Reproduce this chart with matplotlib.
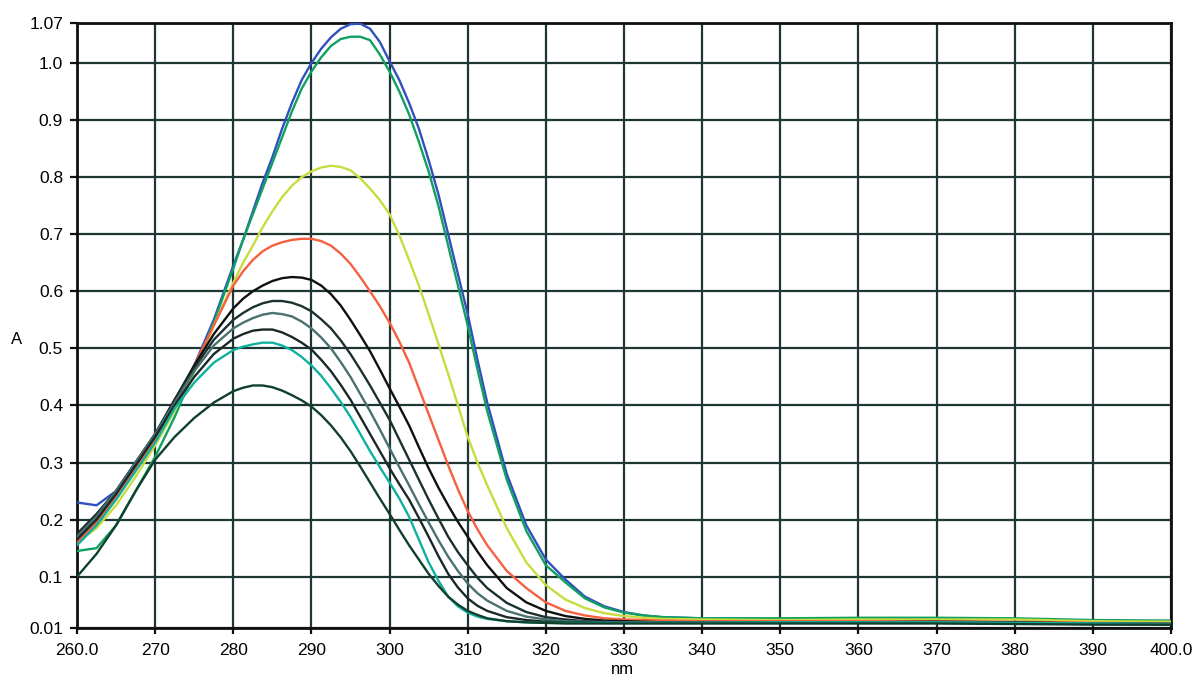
import matplotlib
matplotlib.use("Agg")
import matplotlib.pyplot as plt

plt.rcParams['font.family'] = ['Liberation Sans', 'DejaVu Sans']

# wavelength grid (nm): 2.5 nm steps, 1.25 nm around the bands, 10 nm in the flat tail
wl = [260, 262.5, 265, 267.5, 270, 272.5, 275, 277.5,
      280, 281.25, 282.5, 283.75, 285, 286.25, 287.5, 288.75, 290, 291.25,
      292.5, 293.75, 295, 296.25, 297.5, 298.75, 300, 301.25, 302.5, 303.75,
      305, 306.25, 307.5, 308.75, 310, 311.25, 312.5,
      315, 317.5, 320, 322.5, 325, 327.5, 330, 332.5, 335,
      340, 350, 360, 370, 380, 390, 400]

blue = [0.23, 0.225, 0.25, 0.30, 0.345, 0.40, 0.47, 0.55,
        0.645, 0.69, 0.74, 0.79, 0.835, 0.885, 0.93, 0.97, 1.0, 1.025,
        1.045, 1.06, 1.068, 1.069, 1.06, 1.037, 1.003, 0.97, 0.93, 0.885,
        0.83, 0.77, 0.70, 0.63, 0.56, 0.48, 0.405,
        0.28, 0.19, 0.13, 0.095, 0.065, 0.048, 0.038, 0.032, 0.029,
        0.027, 0.026, 0.026, 0.027, 0.026, 0.023, 0.021]
green = [0.145, 0.15, 0.19, 0.25, 0.31, 0.38, 0.46, 0.545,
         0.64, 0.69, 0.735, 0.78, 0.825, 0.87, 0.915, 0.955, 0.985, 1.01,
         1.03, 1.042, 1.046, 1.046, 1.04, 1.015, 0.985, 0.95, 0.91, 0.862,
         0.81, 0.75, 0.68, 0.61, 0.54, 0.463, 0.39,
         0.27, 0.18, 0.12, 0.09, 0.062, 0.046, 0.037, 0.032, 0.029,
         0.027, 0.027, 0.028, 0.028, 0.027, 0.024, 0.023]
yellow = [0.16, 0.185, 0.225, 0.275, 0.33, 0.39, 0.46, 0.54,
          0.615, 0.65, 0.68, 0.712, 0.74, 0.765, 0.785, 0.80, 0.81, 0.817,
          0.82, 0.818, 0.812, 0.798, 0.78, 0.76, 0.735, 0.698, 0.655, 0.61,
          0.56, 0.508, 0.455, 0.40, 0.345, 0.30, 0.26,
          0.185, 0.125, 0.085, 0.06, 0.045, 0.036, 0.031, 0.028, 0.026,
          0.025, 0.024, 0.025, 0.025, 0.025, 0.022, 0.021]
orange = [0.16, 0.195, 0.24, 0.29, 0.34, 0.40, 0.47, 0.54,
          0.61, 0.635, 0.655, 0.67, 0.68, 0.686, 0.69, 0.692, 0.692, 0.688,
          0.68, 0.666, 0.648, 0.625, 0.60, 0.574, 0.545, 0.512, 0.475, 0.43,
          0.385, 0.34, 0.295, 0.253, 0.215, 0.183, 0.155,
          0.11, 0.08, 0.055, 0.04, 0.032, 0.027, 0.025, 0.024, 0.023,
          0.022, 0.022, 0.022, 0.022, 0.021, 0.019, 0.018]
black = [0.17, 0.205, 0.25, 0.30, 0.35, 0.41, 0.47, 0.525,
         0.57, 0.587, 0.60, 0.61, 0.618, 0.623, 0.625, 0.624, 0.62, 0.61,
         0.595, 0.575, 0.55, 0.523, 0.495, 0.463, 0.43, 0.398, 0.365, 0.327,
         0.29, 0.256, 0.225, 0.196, 0.17, 0.144, 0.12,
         0.08, 0.055, 0.04, 0.031, 0.026, 0.023, 0.022, 0.021, 0.02,
         0.02, 0.02, 0.02, 0.021, 0.02, 0.018, 0.017]
dark6 = [0.175, 0.21, 0.25, 0.30, 0.35, 0.41, 0.465, 0.515,
         0.55, 0.562, 0.572, 0.579, 0.583, 0.583, 0.58, 0.574, 0.565, 0.551,
         0.535, 0.514, 0.49, 0.463, 0.435, 0.405, 0.375, 0.34, 0.305, 0.27,
         0.235, 0.202, 0.17, 0.143, 0.12, 0.098, 0.08,
         0.054, 0.038, 0.029, 0.025, 0.022, 0.021, 0.02, 0.02, 0.02,
         0.02, 0.02, 0.02, 0.02, 0.019, 0.018, 0.017]
gray = [0.17, 0.205, 0.25, 0.30, 0.35, 0.405, 0.46, 0.505,
        0.535, 0.545, 0.553, 0.559, 0.562, 0.56, 0.556, 0.547, 0.535, 0.519,
        0.50, 0.476, 0.45, 0.42, 0.39, 0.358, 0.325, 0.292, 0.26, 0.227,
        0.195, 0.164, 0.135, 0.11, 0.088, 0.071, 0.058,
        0.04, 0.03, 0.025, 0.022, 0.021, 0.02, 0.02, 0.02, 0.02,
        0.02, 0.02, 0.02, 0.02, 0.019, 0.018, 0.017]
dark8 = [0.165, 0.20, 0.245, 0.295, 0.345, 0.40, 0.45, 0.49,
         0.517, 0.525, 0.531, 0.533, 0.533, 0.528, 0.52, 0.51, 0.498, 0.48,
         0.46, 0.436, 0.41, 0.38, 0.35, 0.32, 0.29, 0.262, 0.235, 0.203,
         0.17, 0.136, 0.105, 0.081, 0.062, 0.049, 0.04,
         0.029, 0.024, 0.021, 0.02, 0.02, 0.019, 0.019, 0.019, 0.019,
         0.019, 0.019, 0.019, 0.019, 0.018, 0.017, 0.016]
teal = [0.155, 0.19, 0.235, 0.285, 0.335, 0.395, 0.44, 0.475,
        0.497, 0.503, 0.507, 0.51, 0.51, 0.505, 0.497, 0.485, 0.47, 0.452,
        0.43, 0.406, 0.38, 0.35, 0.32, 0.292, 0.265, 0.237, 0.205, 0.165,
        0.125, 0.093, 0.065, 0.048, 0.037, 0.03, 0.026,
        0.022, 0.02, 0.019, 0.019, 0.019, 0.019, 0.019, 0.019, 0.019,
        0.019, 0.02, 0.02, 0.02, 0.019, 0.018, 0.017]
dkgreen = [0.10, 0.14, 0.19, 0.25, 0.305, 0.345, 0.378, 0.405,
           0.425, 0.431, 0.435, 0.435, 0.432, 0.426, 0.418, 0.409, 0.398, 0.383,
           0.365, 0.344, 0.32, 0.293, 0.265, 0.237, 0.21, 0.182, 0.155, 0.13,
           0.105, 0.084, 0.065, 0.051, 0.04, 0.033, 0.027,
           0.022, 0.02, 0.019, 0.018, 0.018, 0.018, 0.018, 0.018, 0.018,
           0.018, 0.018, 0.018, 0.018, 0.017, 0.016, 0.016]

series = [blue, green, yellow, orange, black, dark6, gray, dark8, teal, dkgreen]
colors = ['#3050c0', '#10a060', '#c8dc40', '#f56040', '#101010',
          '#1c3030', '#4a7070', '#1a2828', '#10b0a0', '#10402c']

xticks = [260, 270, 280, 290, 300, 310, 320, 330, 340, 350, 360, 370, 380, 390, 400]
xlabels = ['260.0'] + [str(v) for v in xticks[1:-1]] + ['400.0']
yticks = [0.01, 0.1, 0.2, 0.3, 0.4, 0.5, 0.6, 0.7, 0.8, 0.9, 1.0, 1.07]
ylabels = ['0.01', '0.1', '0.2', '0.3', '0.4', '0.5', '0.6', '0.7', '0.8', '0.9', '1.0', '1.07']

fig = plt.figure(figsize=(11.94, 6.78), dpi=100)
ax = fig.add_axes([0.0645, 0.0737, 0.9162, 0.8923])

gridc = '#1e3634'
for v in xticks:
    ax.axvline(v, color=gridc, lw=1.6, zorder=1)
for v in yticks:
    ax.axhline(v, color=gridc, lw=1.6, zorder=1)

for s, c in zip(series, colors):
    ax.plot(wl, s, color=c, lw=1.7, zorder=3)

ax.set_xlim(260, 400)
ax.set_ylim(0.01, 1.07)
ax.set_xticks(xticks)
ax.set_xticklabels(xlabels)
ax.set_yticks(yticks)
ax.set_yticklabels(ylabels)
ax.tick_params(axis='x', direction='out', length=4, width=1.6, color='#101010',
               labelsize=12.5, pad=7)
ax.tick_params(axis='y', direction='out', length=5, width=1.6, color='#101010',
               labelsize=12.5, pad=5)
for sp in ax.spines.values():
    sp.set_color('#101010')
    sp.set_linewidth(2)

fig.text(0.521, 0.002, 'nm', fontsize=12, ha='center', va='bottom')
fig.text(0.0095, 0.5, 'A', fontsize=12, va='center', ha='left')

fig.savefig('out.png', dpi=100)
